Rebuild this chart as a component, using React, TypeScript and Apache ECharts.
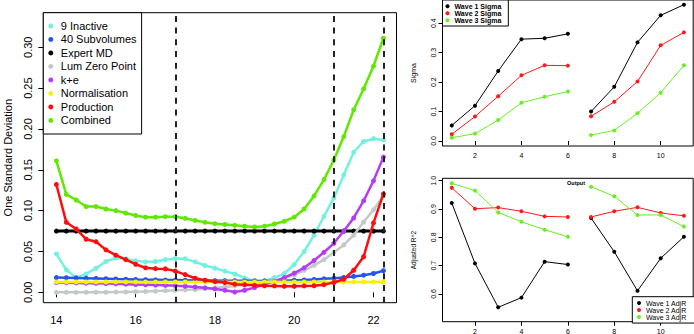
import React, { useEffect, useRef } from "react";
import * as echarts from "echarts";

// ---- Left panel data ----
const xs = [14, 14.25, 14.5, 14.75, 15, 15.25, 15.5, 15.75, 16, 16.25, 16.5, 16.75, 17, 17.25, 17.5, 17.75, 18, 18.25, 18.5, 18.75, 19, 19.25, 19.5, 19.75, 20, 20.25, 20.5, 20.75, 21, 21.25, 21.5, 21.75, 22, 22.25];
const inactive9 = [0.047, 0.0275, 0.018, 0.0225, 0.0295, 0.0377, 0.042, 0.041, 0.0385, 0.0373, 0.0377, 0.040, 0.0414, 0.041, 0.0373, 0.0328, 0.0295, 0.026, 0.0225, 0.0176, 0.014, 0.014, 0.018, 0.023, 0.034, 0.050, 0.070, 0.093, 0.1156, 0.1437, 0.1715, 0.1846, 0.188, 0.1866];
const subvolumes40 = [0.018, 0.0178, 0.0176, 0.0173, 0.017, 0.0167, 0.0163, 0.016, 0.0157, 0.0155, 0.0153, 0.015, 0.015, 0.0148, 0.0146, 0.0145, 0.0144, 0.0143, 0.0142, 0.0141, 0.014, 0.014, 0.0141, 0.0143, 0.0148, 0.0152, 0.0157, 0.0165, 0.0173, 0.0182, 0.0195, 0.021, 0.023, 0.0265];
const expertMD = [0.075, 0.075, 0.075, 0.075, 0.075, 0.075, 0.075, 0.075, 0.075, 0.075, 0.075, 0.075, 0.075, 0.075, 0.075, 0.075, 0.075, 0.075, 0.075, 0.075, 0.075, 0.075, 0.075, 0.075, 0.075, 0.075, 0.075, 0.075, 0.075, 0.075, 0.075, 0.075, 0.075, 0.075];
const lumZero = [0, 0, 0, 0, 0, 0, 0.0003, 0.0005, 0.0008, 0.001, 0.0015, 0.002, 0.0025, 0.003, 0.0035, 0.0045, 0.0055, 0.0065, 0.0078, 0.009, 0.0105, 0.012, 0.0145, 0.0175, 0.021, 0.027, 0.033, 0.040, 0.049, 0.058, 0.070, 0.086, 0.101, 0.118];
const kPlusE = [0.0119, 0.0117, 0.0115, 0.0112, 0.011, 0.0107, 0.0104, 0.0100, 0.0096, 0.0093, 0.009, 0.0086, 0.0081, 0.0074, 0.0065, 0.0055, 0.0042, 0.0025, 0.0003, 0.0025, 0.0058, 0.0098, 0.0135, 0.018, 0.0235, 0.030, 0.039, 0.049, 0.060, 0.075, 0.091, 0.112, 0.1365, 0.1655];
const normalisation = [0.0127, 0.0127, 0.0127, 0.0127, 0.0127, 0.0127, 0.0127, 0.0127, 0.0127, 0.0127, 0.0127, 0.0127, 0.0127, 0.0127, 0.0127, 0.0127, 0.0127, 0.0127, 0.0127, 0.0127, 0.0127, 0.0127, 0.0127, 0.0127, 0.0127, 0.0127, 0.0127, 0.0127, 0.0127, 0.0127, 0.0127, 0.0127, 0.0127, 0.0127];
const production = [0.132, 0.0857, 0.0775, 0.065, 0.062, 0.052, 0.0455, 0.040, 0.0344, 0.030, 0.029, 0.0287, 0.026, 0.0217, 0.0172, 0.0148, 0.013, 0.012, 0.010, 0.0094, 0.0086, 0.008, 0.0078, 0.0074, 0.0074, 0.0078, 0.008, 0.0094, 0.012, 0.016, 0.027, 0.0435, 0.085, 0.1205];
const combined = [0.161, 0.120, 0.113, 0.105, 0.105, 0.102, 0.100, 0.097, 0.094, 0.092, 0.092, 0.0926, 0.0926, 0.0906, 0.088, 0.0857, 0.084, 0.083, 0.082, 0.081, 0.080, 0.081, 0.0836, 0.087, 0.092, 0.102, 0.118, 0.138, 0.162, 0.1907, 0.2234, 0.249, 0.277, 0.311];
const dashedAt = [17, 21, 22.25];
const leftXTicks = [14, 16, 18, 20, 22];
const leftYTicks = [0, 0.05, 0.1, 0.15, 0.2, 0.25, 0.3];

// ---- Right panels data ----
const waveX = [1, 2, 3, 4, 5, 6, 7, 8, 9, 10, 11];
const wave1Sigma = [0.053, 0.120, 0.238, 0.346, 0.349, 0.364, 0.100, 0.184, 0.335, 0.427, 0.463];
const wave2Sigma = [0.023, 0.083, 0.152, 0.223, 0.257, 0.256, 0.084, 0.133, 0.202, 0.325, 0.369];
const wave3Sigma = [0.011, 0.025, 0.071, 0.130, 0.150, 0.168, 0.020, 0.036, 0.094, 0.164, 0.257];
const wave1AdjR = [0.921, 0.708, 0.553, 0.587, 0.714, 0.704, 0.868, 0.749, 0.611, 0.726, 0.802];
const wave2AdjR = [0.975, 0.901, 0.905, 0.892, 0.874, 0.872, 0.872, 0.892, 0.906, 0.886, 0.876];
const wave3AdjR = [0.991, 0.965, 0.888, 0.855, 0.827, 0.802, 0.979, 0.945, 0.879, 0.879, 0.838];
const rightXTicks = [2, 4, 6, 8, 10];
const sigmaTicks = [0, 0.1, 0.2, 0.3, 0.4];
const adjTicks = [0.6, 0.7, 0.8, 0.9, 1.0];
const gapAfter = 6; // lines break between x=6 and x=7

const FONT = "Liberation Sans, Arial, Helvetica, sans-serif";

const leftSeriesDefs = [
  { name: "9 Inactive", data: inactive9, color: "#74F0DE" },
  { name: "40 Subvolumes", data: subvolumes40, color: "#2453F2" },
  { name: "Expert MD", data: expertMD, color: "#000000" },
  { name: "Lum Zero Point", data: lumZero, color: "#C3C9C9" },
  { name: "k+e", data: kPlusE, color: "#B43CF5" },
  { name: "Normalisation", data: normalisation, color: "#F7F200" },
  { name: "Production", data: production, color: "#FF0D0D" },
  { name: "Combined", data: combined, color: "#5FE800" },
];

const rightTopDefs = [
  { name: "Wave 1 Sigma", data: wave1Sigma, color: "#000000" },
  { name: "Wave 2 Sigma", data: wave2Sigma, color: "#FF1A1A" },
  { name: "Wave 3 Sigma", data: wave3Sigma, color: "#66F020" },
];
const rightBotDefs = [
  { name: "Wave 1 AdjR", data: wave1AdjR, color: "#000000" },
  { name: "Wave 2 AdjR", data: wave2AdjR, color: "#FF1A1A" },
  { name: "Wave 3 AdjR", data: wave3AdjR, color: "#66F020" },
];

function gapData(vals: number[]) {
  const out: any[] = [];
  waveX.forEach((x, i) => {
    out.push([x, vals[i]]);
    if (x === gapAfter) out.push([x + 0.5, null]);
  });
  return out;
}

function valueAxis(opts: any) {
  const { gridIndex, min, max, ticks, fmt, fontSize, margin, tickLen, rotate, name, nameGap, nameSize } = opts;
  return {
    type: "value",
    gridIndex,
    min,
    max,
    axisLine: { show: false },
    splitLine: { show: false },
    axisTick: { show: true, customValues: ticks, length: tickLen, lineStyle: { color: "#000", width: 1 } },
    axisLabel: {
      customValues: ticks,
      formatter: fmt,
      fontSize,
      fontFamily: FONT,
      color: "#000",
      margin,
      rotate: rotate || 0,
    },
    name: name || "",
    nameLocation: "middle",
    nameGap: nameGap || 0,
    nameRotate: 90,
    nameTextStyle: { fontSize: nameSize || 11, fontFamily: FONT, color: "#000" },
  };
}

export default function App() {
  const ref = useRef<HTMLDivElement>(null);
  useEffect(() => {
    const chart = echarts.init(ref.current!, null, { renderer: "svg" });
    const series: any[] = [];
    leftSeriesDefs.forEach((d, i) => {
      const s: any = {
        name: d.name,
        type: "line",
        xAxisIndex: 0,
        yAxisIndex: 0,
        data: xs.map((x, k) => [x, d.data[k]]),
        symbol: "circle",
        symbolSize: 5,
        showSymbol: true,
        color: d.color,
        lineStyle: { width: d.name === "Expert MD" ? 3 : 2.5, color: d.color },
        itemStyle: { color: d.color },
        z: 2 + i * 0.01,
        silent: true,
      };
      if (i === 0) {
        s.markLine = {
          silent: true,
          symbol: ["none", "none"],
          label: { show: false },
          lineStyle: { type: [6, 5.7], color: "#222", width: 2 },
          data: dashedAt.map((v) => ({ xAxis: v })),
          z: 10,
        };
      }
      series.push(s);
    });
    rightTopDefs.forEach((d) => {
      series.push({
        name: d.name, type: "line", xAxisIndex: 1, yAxisIndex: 1,
        data: gapData(d.data), symbol: "circle", symbolSize: 4, color: d.color,
        lineStyle: { width: 1, color: d.color }, itemStyle: { color: d.color }, silent: true,
      });
    });
    rightBotDefs.forEach((d) => {
      series.push({
        name: d.name, type: "line", xAxisIndex: 2, yAxisIndex: 2,
        data: gapData(d.data), symbol: "circle", symbolSize: 4, color: d.color,
        lineStyle: { width: 1, color: d.color }, itemStyle: { color: d.color }, silent: true,
      });
    });

    const option: any = {
      animation: false,
      backgroundColor: "#fff",
      textStyle: { fontFamily: FONT },
      grid: [
        { left: 43.3, top: 12.7, width: 353.2, height: 290, show: true, borderColor: "#000", borderWidth: 1, backgroundColor: "transparent", outerBoundsMode: "none", containLabel: false },
        { left: 442.5, top: 0, width: 250.7, height: 146, show: true, borderColor: "#000", borderWidth: 1, backgroundColor: "transparent", outerBoundsMode: "none", containLabel: false },
        { left: 442.5, top: 178.3, width: 250.7, height: 143.4, show: true, borderColor: "#000", borderWidth: 1, backgroundColor: "transparent", outerBoundsMode: "none", containLabel: false },
      ],
      xAxis: [
        valueAxis({ gridIndex: 0, min: 13.67, max: 22.58, ticks: leftXTicks, fmt: (v: number) => String(v), fontSize: 11, margin: 12, tickLen: 5 }),
        valueAxis({ gridIndex: 1, min: 0.6, max: 11.4, ticks: rightXTicks, fmt: (v: number) => String(v), fontSize: 7, margin: 6, tickLen: 4 }),
        valueAxis({ gridIndex: 2, min: 0.6, max: 11.4, ticks: rightXTicks, fmt: (v: number) => String(v), fontSize: 7, margin: 6, tickLen: 4 }),
      ],
      yAxis: [
        valueAxis({ gridIndex: 0, min: -0.0127, max: 0.3423, ticks: leftYTicks, fmt: (v: number) => v.toFixed(2), fontSize: 11, margin: 10, tickLen: 5, rotate: 90, name: "One Standard Deviation", nameGap: 30, nameSize: 11 }),
        valueAxis({ gridIndex: 1, min: -0.017, max: 0.479, ticks: sigmaTicks, fmt: (v: number) => v.toFixed(1), fontSize: 7, margin: 6, tickLen: 4, rotate: 90, name: "Sigma", nameGap: 26, nameSize: 7 }),
        valueAxis({ gridIndex: 2, min: 0.502, max: 1.0085, ticks: adjTicks, fmt: (v: number) => v.toFixed(1), fontSize: 7, margin: 6, tickLen: 4, rotate: 90, name: "Adjusted R^2", nameGap: 26, nameSize: 6.5 }),
      ],
      legend: [
        {
          left: 43.3, top: 12.7, orient: "vertical",
          padding: [6.5, 5, 6.8, 5], itemWidth: 10, itemHeight: 5, itemGap: 0, icon: "circle",
          borderColor: "#000", borderWidth: 1, backgroundColor: "#fff", borderRadius: 0,
          textStyle: { fontSize: 11, lineHeight: 13.5, color: "#000", fontFamily: FONT },
          data: leftSeriesDefs.map((d) => d.name), selectedMode: false, z: 20,
        },
        {
          left: 442.5, top: 0, orient: "vertical",
          padding: [2.7, 7, 2.3, 3], itemWidth: 4, itemHeight: 4, itemGap: 0, icon: "circle",
          borderColor: "#000", borderWidth: 1, backgroundColor: "#fff", borderRadius: 0,
          textStyle: { fontSize: 7, fontWeight: "bold", lineHeight: 6.67, color: "#000", fontFamily: FONT },
          data: rightTopDefs.map((d) => d.name), selectedMode: false, z: 20,
        },
        {
          left: 632.3, top: 296.7, orient: "vertical",
          padding: [2.85, 8, 2.5, 4.7], itemWidth: 4, itemHeight: 4, itemGap: 0, icon: "circle",
          borderColor: "#000", borderWidth: 1, backgroundColor: "#fff", borderRadius: 0,
          textStyle: { fontSize: 7, lineHeight: 6.3, color: "#000", fontFamily: FONT },
          data: rightBotDefs.map((d) => d.name), selectedMode: false, z: 20,
        },
      ],
      graphic: [
        {
          type: "text", left: 567, top: 180,
          style: { text: "Output", fontSize: 5.5, fontWeight: "bold", fill: "#000", fontFamily: FONT, textAlign: "center" },
        },
      ],
      series,
    };
    chart.setOption(option);
    return () => chart.dispose();
  }, []);
  return <div ref={ref} style={{ position: "absolute", left: 0, top: 0, width: 694, height: 334 }} />;
}
